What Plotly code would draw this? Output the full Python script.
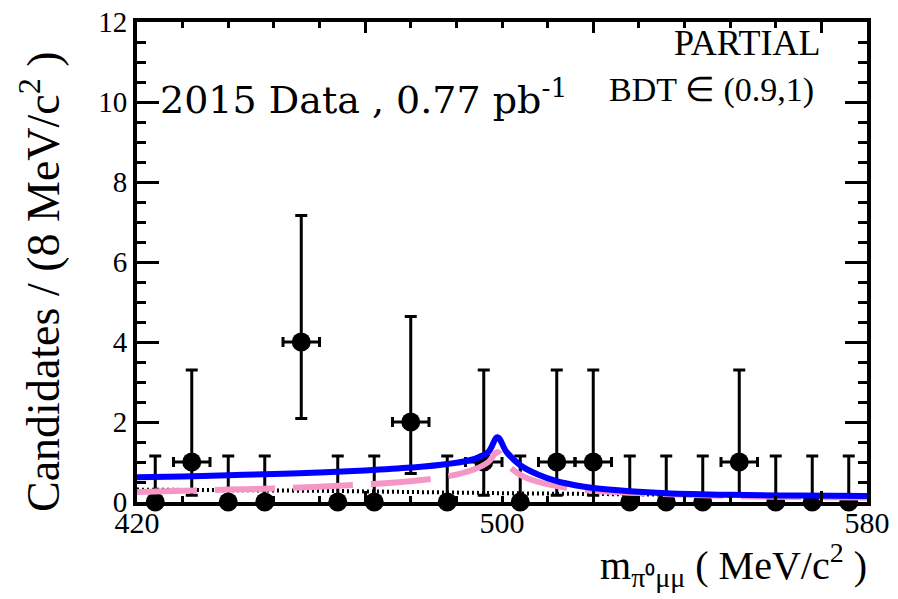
import plotly.graph_objects as go

# ---- data ----
bin_centers = [424, 432, 440, 448, 456, 464, 472, 480, 488, 496,
               504, 512, 520, 528, 536, 544, 552, 560, 568, 576]
counts      = [0, 1, 0, 0, 4, 0, 0, 2, 0, 1,
               0, 1, 1, 0, 0, 0, 1, 0, 0, 0]
err_hi      = [1.15, 2.30, 1.15, 1.15, 3.16, 1.15, 1.15, 2.64, 1.15, 2.30,
               1.15, 2.30, 2.30, 1.15, 1.15, 1.15, 2.30, 1.15, 1.15, 1.15]
err_lo      = [0.0, 0.83, 0.0, 0.0, 1.91, 0.0, 0.0, 1.29, 0.0, 0.83,
               0.0, 0.83, 0.83, 0.0, 0.0, 0.0, 0.83, 0.0, 0.0, 0.0]
bin_halfwidth = [0 if c == 0 else 4 for c in counts]

total_x = [420, 430, 440, 450, 460, 470, 480, 488, 494, 497, 499, 501, 504, 508,
           512, 516, 520, 528, 536, 550, 565, 580]
total_y = [0.62, 0.64, 0.67, 0.70, 0.74, 0.79, 0.86, 0.95, 1.08, 1.25, 1.62, 1.25,
           0.92, 0.68, 0.52, 0.42, 0.35, 0.27, 0.22, 0.18, 0.16, 0.15]

bkg_x = [420, 430, 440, 450, 460, 470, 480, 488, 494, 497, 499, 501, 504, 508,
         512, 516, 520, 530, 540, 555, 570, 580]
bkg_y = [0.25, 0.28, 0.31, 0.34, 0.38, 0.44, 0.52, 0.64, 0.82, 1.00, 1.25, 0.95,
         0.68, 0.50, 0.40, 0.33, 0.28, 0.22, 0.18, 0.14, 0.12, 0.11]

comb_x = [420, 460, 500, 540, 580]
comb_y = [0.31, 0.28, 0.22, 0.17, 0.14]

x_label_vals = [420, 500, 580]
x_major_ticks = [470, 520, 570]

SERIF = "Liberation Serif"

W, H = 898, 599
# plot-area geometry in page pixels (body margin removed below)
L, R, T, B = 137, 867, 22, 502

def px(xp):
    return (xp - L) / (R - L)

def py(yp):
    return (B - yp) / (B - T)

fig = go.Figure()

fig.add_trace(go.Scatter(
    x=bin_centers, y=counts, mode="markers",
    marker=dict(color="black", size=19),
    error_y=dict(type="data", symmetric=False, array=err_hi, arrayminus=err_lo,
                 color="black", thickness=3, width=6),
    error_x=dict(type="data", array=bin_halfwidth, color="black", thickness=3, width=5),
    cliponaxis=False, showlegend=False))

fig.add_trace(go.Scatter(x=comb_x, y=comb_y, mode="lines",
                         line=dict(color="black", width=4, dash="2px,3px"),
                         showlegend=False))
fig.add_trace(go.Scatter(x=bkg_x, y=bkg_y, mode="lines",
                         line=dict(color="#F596C6", width=6, dash="60px,18px", shape="spline"),
                         showlegend=False))
fig.add_trace(go.Scatter(x=total_x, y=total_y, mode="lines",
                         line=dict(color="#0000FF", width=6, shape="spline"),
                         showlegend=False))

tick_axis = dict(range=[420, 580], tickmode="array", tickvals=x_major_ticks,
                 showticklabels=False, ticks="inside", ticklen=11, tickwidth=3,
                 tickcolor="black",
                 minor=dict(tick0=420, dtick=10, ticks="inside", ticklen=6,
                            tickwidth=3, tickcolor="black"),
                 showline=True, linewidth=4, linecolor="black",
                 showgrid=False, zeroline=False)

fig.update_layout(
    width=W, height=H,
    margin=dict(l=L, r=W - R, t=T, b=H - B, autoexpand=False),
    plot_bgcolor="white", paper_bgcolor="white",
    font=dict(family=SERIF, color="black"),
    xaxis=dict(**tick_axis, side="bottom", mirror="ticks"),
    xaxis3=dict(**tick_axis, side="top", overlaying="x", anchor="y"),
    xaxis2=dict(range=[420, 580], overlaying="x", anchor="y", side="bottom",
                tickmode="array", tickvals=x_label_vals, automargin=False,
                ticktext=[str(v) for v in x_label_vals], ticklabeloverflow="allow",
                ticks="", showline=False, showgrid=False, zeroline=False,
                tickfont=dict(family=SERIF, size=30, color="black")),
    yaxis=dict(range=[0, 12], tickmode="linear", tick0=0, dtick=2,
               ticks="inside", ticklen=22, tickwidth=3, tickcolor="black",
               automargin=False, ticklabeloverflow="allow",
               minor=dict(dtick=0.5, ticks="inside", ticklen=9, tickwidth=3,
                          tickcolor="black"),
               showline=True, linewidth=4, linecolor="black", mirror="ticks",
               showgrid=False, zeroline=False,
               tickfont=dict(family=SERIF, size=29, color="black")),
)
# invisible traces so the overlaying axes are drawn
fig.add_trace(go.Scatter(x=[420], y=[0], xaxis="x2", mode="markers",
                         marker=dict(opacity=0), hoverinfo="skip", showlegend=False))
fig.add_trace(go.Scatter(x=[420], y=[0], xaxis="x3", mode="markers",
                         marker=dict(opacity=0), hoverinfo="skip", showlegend=False))

# top frame edge
fig.add_shape(type="line", xref="paper", yref="paper",
              x0=-4 / (R - L), x1=1 + 4 / (R - L), y0=1 + 2 / (B - T), y1=1 + 2 / (B - T),
              line=dict(color="black", width=4), layer="above")

fig.add_annotation(text="2015 Data , 0.77 pb<sup>-1</sup>", xref="paper", yref="paper",
                   x=px(158), y=py(97), xanchor="left", yanchor="middle",
                   showarrow=False, font=dict(family="DejaVu Serif", size=38, color="black"))
fig.add_annotation(text="PARTIAL", xref="paper", yref="paper",
                   x=px(823), y=py(43), xanchor="right", yanchor="middle",
                   showarrow=False, font=dict(family=SERIF, size=36, color="black"))
fig.add_annotation(text="BDT ∈ (0.9,1)", xref="paper", yref="paper",
                   x=px(816), y=py(90), xanchor="right", yanchor="middle",
                   showarrow=False, font=dict(family=SERIF, size=34, color="black"))
fig.add_annotation(text="Candidates / (8 MeV/c<sup>2</sup> )", xref="paper", yref="paper",
                   x=px(40), y=py(282), xanchor="center", yanchor="middle",
                   textangle=-90, showarrow=False,
                   font=dict(family=SERIF, size=46, color="black"))
fig.add_annotation(text="m<sub>π⁰μμ</sub> ( MeV/c<sup>2</sup> )", xref="paper", yref="paper",
                   x=px(869), y=py(565), xanchor="right", yanchor="middle",
                   showarrow=False, font=dict(family=SERIF, size=40, color="black"))

fig.write_html("out.html", config={"displayModeBar": False},
               post_script="document.body.style.margin='0px';document.body.style.overflow='hidden';")
